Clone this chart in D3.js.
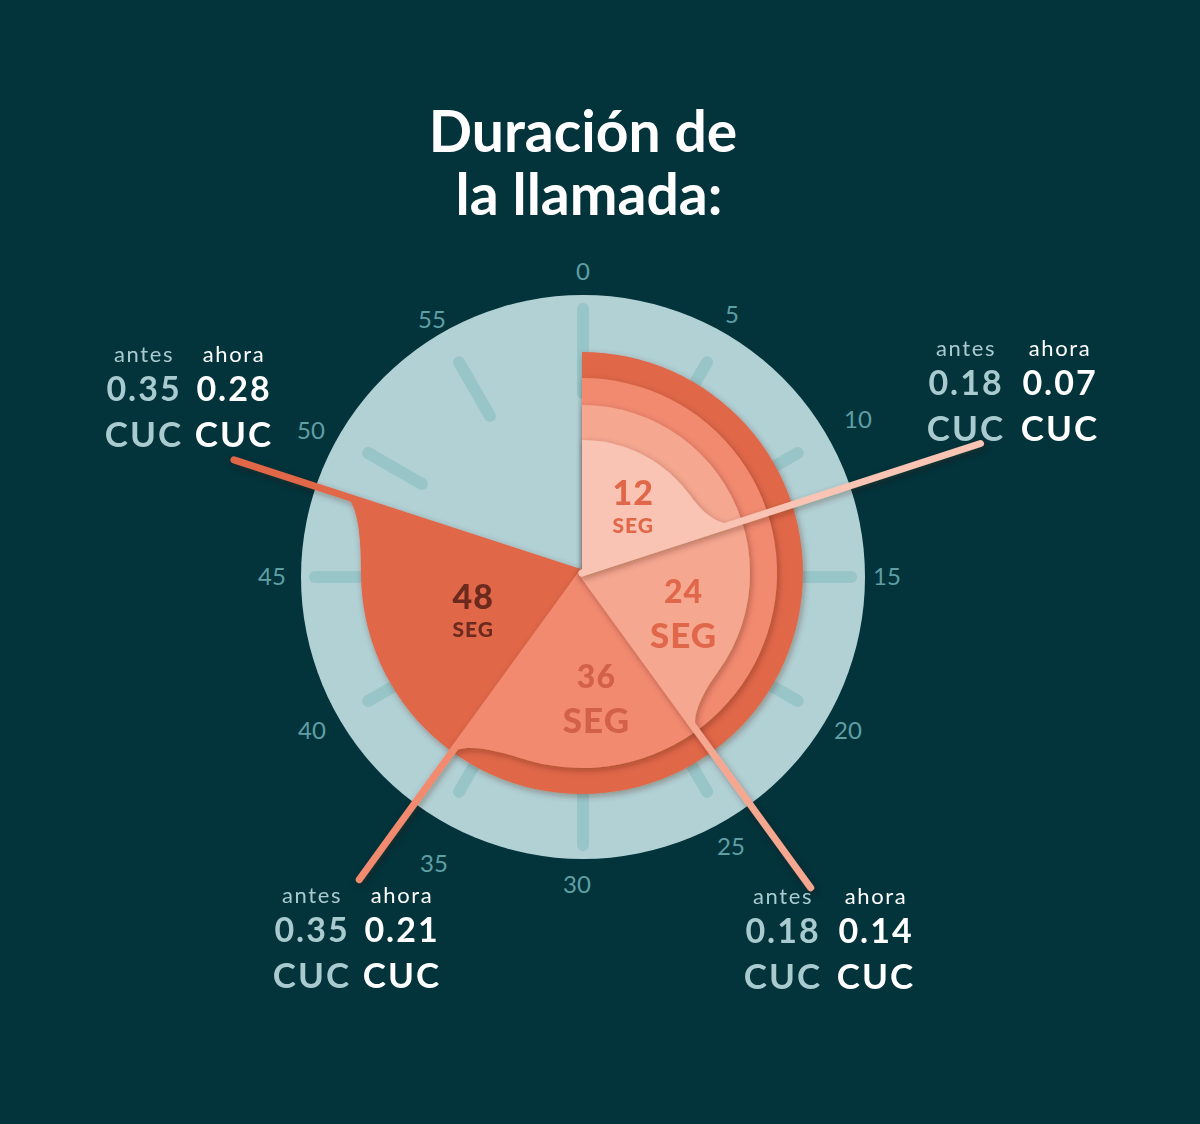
<!DOCTYPE html>
<html><head><meta charset="utf-8">
<script src="https://cdn.jsdelivr.net/npm/d3@7"></script>
<style>html,body{margin:0;padding:0;background:#03333b;} svg{display:block}</style>
</head><body><svg id="c" width="1200" height="1124"></svg>
<script>
// ---- data ----
const titleLines = ["Duración de", "la llamada:"];
const durations = [12, 24, 36, 48];          // seconds (clock positions)
const durationUnit = "SEG";
const precioAntes = [0.18, 0.18, 0.35, 0.35];
const precioAhora = [0.07, 0.14, 0.21, 0.28];
const currency = "CUC";
const columnLabels = ["antes", "ahora"];
const tickValues = [0, 5, 10, 15, 20, 25, 30, 35, 40, 45, 50, 55];

// ---- layout / style ----
const W = 1200, H = 1124;
const cx = 583, cy = 577;     // clock face centre
const wx = 582, wy = 573;     // wedge centre
const faceR = 282;
const layerRadius = [133, 168, 195, 221];
const layerFill = ["#f9c4b3", "#f5a790", "#f28a6f", "#e0674a"];
const numFill = ["#e0674a", "#e0674a", "#d2604a", "#6b2a1d"];
const labelPos = [{a: 7.05, r: 76, big: false}, {a: 19.5, r: 114, big: true},
                  {a: 29.0, r: 138, big: true}, {a: 41.0, r: 119, big: false}];
const leaderLen = [419, 389, 379, 366];
const calloutPos = [{x1: 966, x2: 1060, y: 356}, {x1: 783, x2: 876, y: 904},
                    {x1: 312, x2: 402, y: 903}, {x1: 144, x2: 234, y: 362}];
// small nudges of clock numbers (label placement only)
const tickNudge = {5: [-4, 2], 10: [10, -5], 50: [-7, 6], 55: [2, 7], 35: [4, 21], 25: [-5, 4], 30: [-6, 1], 45: [-5, -1], 15: [-2, -1], 40: [-6, 0]};
const FONT = "Lato, 'Open Sans', sans-serif";

const svg = d3.select("#c");
svg.append("rect").attr("width", W).attr("height", H).attr("fill", "#03333b");

const defs = svg.append("defs");
const f = defs.append("filter").attr("id", "sh").attr("x", "-30%").attr("y", "-30%")
  .attr("width", "160%").attr("height", "160%");
f.append("feDropShadow").attr("dx", 1.5).attr("dy", 2.5).attr("stdDeviation", 3)
  .attr("flood-color", "#3a1a10").attr("flood-opacity", 0.35);

const angle = d3.scaleLinear().domain([0, 60]).range([0, 2 * Math.PI]);
const ptc = (a, r) => [cx + r * Math.sin(a), cy - r * Math.cos(a)];
const ptw = (a, r) => [wx + r * Math.sin(a), wy - r * Math.cos(a)];

// title
svg.append("g").selectAll("text").data(titleLines).join("text")
  .attr("x", (d, i) => cx + i * 6).attr("y", (d, i) => 152 + i * 63)
  .attr("text-anchor", "middle").attr("font-family", FONT).attr("font-weight", 700)
  .attr("font-size", 57).attr("fill", "#ffffff").text(d => d);

// clock face
svg.append("circle").attr("cx", cx).attr("cy", cy).attr("r", faceR).attr("fill", "#b2d1d5");

svg.append("g").selectAll("line").data(tickValues).join("line")
  .attr("x1", d => ptc(angle(d), d % 15 === 0 ? 184 : 186)[0])
  .attr("y1", d => ptc(angle(d), d % 15 === 0 ? 184 : 186)[1])
  .attr("x2", d => ptc(angle(d), d % 15 === 0 ? 268 : 248)[0])
  .attr("y2", d => ptc(angle(d), d % 15 === 0 ? 268 : 248)[1])
  .attr("stroke", "#98c5c8").attr("stroke-width", 12).attr("stroke-linecap", "round");

svg.append("g").selectAll("text").data(tickValues).join("text")
  .attr("x", d => ptc(angle(d), 306)[0] + (tickNudge[d] ? tickNudge[d][0] : 0))
  .attr("y", d => ptc(angle(d), 306)[1] + (tickNudge[d] ? tickNudge[d][1] : 0))
  .attr("dy", "0.36em").attr("text-anchor", "middle")
  .attr("font-family", FONT).attr("font-size", 24).attr("fill", "#5e9fa4").text(d => d);

// wedges (largest first)
const arc = d3.arc().innerRadius(0).startAngle(0);
const phi = angle(3), dOut = 30;
const order = d3.range(durations.length).reverse();
order.forEach(i => {
  const th = angle(durations[i]);
  const R = layerRadius[i];
  const g = svg.append("g").attr("filter", "url(#sh)");
  g.append("path").attr("transform", `translate(${wx},${wy})`)
    .attr("d", arc({outerRadius: R, endAngle: th})).attr("fill", layerFill[i]);
  // fillet tail
  const a0 = th - phi;
  const P0 = ptw(a0, R);
  const C1 = [P0[0] + 22 * Math.cos(a0), P0[1] + 22 * Math.sin(a0)];
  const P3 = ptw(th, R + dOut);
  const u = [Math.sin(th), -Math.cos(th)];
  const C2 = [P3[0] - 18 * u[0], P3[1] - 18 * u[1]];
  const p = d3.path();
  p.moveTo(wx, wy); p.lineTo(P0[0], P0[1]);
  p.bezierCurveTo(C1[0], C1[1], C2[0], C2[1], P3[0], P3[1]); p.closePath();
  g.append("path").attr("d", p.toString()).attr("fill", layerFill[i]);
  // leader line
  const E = ptw(th, leaderLen[i]);
  g.append("line").attr("x1", wx).attr("y1", wy).attr("x2", E[0]).attr("y2", E[1])
    .attr("stroke", layerFill[i]).attr("stroke-width", 7).attr("stroke-linecap", "round");
});

// wedge labels
durations.forEach((d, i) => {
  const L = labelPos[i];
  const [x, y] = ptw(angle(L.a), L.r);
  const g = svg.append("g").attr("font-family", FONT).attr("font-weight", 900)
    .attr("text-anchor", "middle").attr("fill", numFill[i]);
  g.append("text").attr("x", x).attr("y", L.big ? y - 22 : y - 12)
    .attr("font-size", L.big ? 32 : 34).attr("letter-spacing", 1).text(d);
  g.append("text").attr("x", x).attr("y", L.big ? y + 23 : y + 16)
    .attr("font-size", L.big ? 35 : 21).attr("letter-spacing", 1).text(durationUnit);
});

// callouts
durations.forEach((d, i) => {
  const c = calloutPos[i];
  const g = svg.append("g").attr("font-family", FONT).attr("text-anchor", "middle");
  g.append("text").attr("x", c.x1).attr("y", c.y).attr("font-size", 22).attr("letter-spacing", 1.6)
    .attr("fill", "#a9cbcf").text(columnLabels[0]);
  g.append("text").attr("x", c.x2).attr("y", c.y).attr("font-size", 22).attr("letter-spacing", 1.6)
    .attr("fill", "#ffffff").text(columnLabels[1]);
  g.append("text").attr("x", c.x1).attr("y", c.y + 39).attr("font-size", 34).attr("font-weight", 700)
    .attr("letter-spacing", 2).attr("fill", "#a9cbcf").text(d3.format(".2f")(precioAntes[i]));
  g.append("text").attr("x", c.x2).attr("y", c.y + 39).attr("font-size", 34).attr("font-weight", 700)
    .attr("letter-spacing", 2).attr("fill", "#ffffff").text(d3.format(".2f")(precioAhora[i]));
  g.append("text").attr("x", c.x1).attr("y", c.y + 85).attr("font-size", 35).attr("font-weight", 700)
    .attr("letter-spacing", 2).attr("fill", "#a9cbcf").text(currency);
  g.append("text").attr("x", c.x2).attr("y", c.y + 85).attr("font-size", 35).attr("font-weight", 700)
    .attr("letter-spacing", 2).attr("fill", "#ffffff").text(currency);
});
</script></body></html>
